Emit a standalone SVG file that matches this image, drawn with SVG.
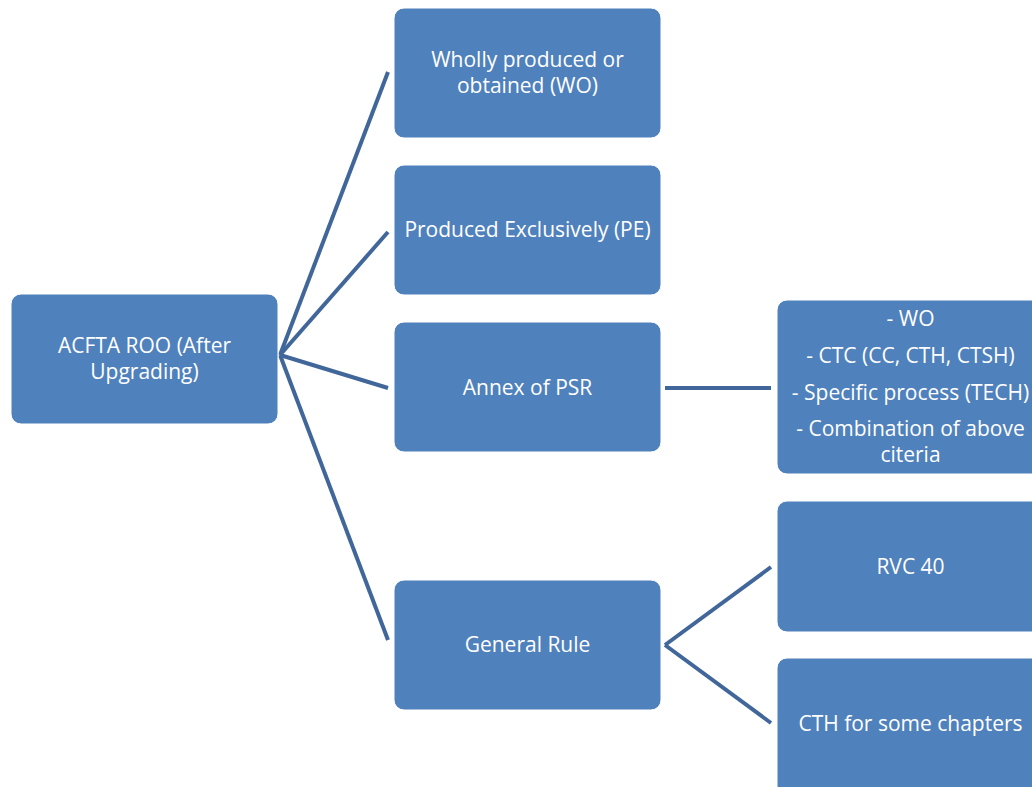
<svg xmlns="http://www.w3.org/2000/svg" width="1032" height="787" viewBox="0 0 1032 787">
<style>
.n{fill:#4F81BD;stroke:#ffffff;stroke-width:1}
.t{font-family:"Open Sans","Liberation Sans",sans-serif;font-size:21px;fill:#ffffff;text-anchor:middle}
.c{stroke:#41679A;stroke-width:4;fill:none}
</style>
<rect width="1032" height="787" fill="#ffffff"/>
<g id="connectors">
<path class="c" d="M280,355 L388,72"/>
<path class="c" d="M280,355 L388,232"/>
<path class="c" d="M280,355 L388,388"/>
<path class="c" d="M280,355 L388,640"/>
<path class="c" d="M665,388 L771,388"/>
<path class="c" d="M665,645 L771,567"/>
<path class="c" d="M665,645 L771,723"/>
</g>
<g id="root">
<rect class="n" x="11" y="294" width="267" height="130" rx="10"/>
<text class="t" x="144.5" y="353">ACFTA ROO (After</text>
<text class="t" x="144.5" y="379">Upgrading)</text>
</g>
<g id="wo">
<rect class="n" x="394" y="8" width="267" height="130" rx="10"/>
<text class="t" x="527.5" y="67">Wholly produced or</text>
<text class="t" x="527.5" y="93">obtained (WO)</text>
</g>
<g id="pe">
<rect class="n" x="394" y="165" width="267" height="130" rx="10"/>
<text class="t" x="527.5" y="237">Produced Exclusively (PE)</text>
</g>
<g id="psr">
<rect class="n" x="394" y="322" width="267" height="130" rx="10"/>
<text class="t" x="527.5" y="395">Annex of PSR</text>
</g>
<g id="gr">
<rect class="n" x="394" y="580" width="267" height="130" rx="10"/>
<text class="t" x="527.5" y="652">General Rule</text>
</g>
<g id="criteria">
<rect class="n" x="777" y="300" width="267" height="174" rx="10"/>
<text class="t" x="910.5" y="326">- WO</text>
<text class="t" x="910.5" y="363">- CTC (CC, CTH, CTSH)</text>
<text class="t" x="910.5" y="400">- Specific process (TECH)</text>
<text class="t" x="910.5" y="436">- Combination of above</text>
<text class="t" x="910.5" y="462">citeria</text>
</g>
<g id="rvc">
<rect class="n" x="777" y="501" width="267" height="131" rx="10"/>
<text class="t" x="910.5" y="574">RVC 40</text>
</g>
<g id="cth">
<rect class="n" x="777" y="658" width="267" height="140" rx="10"/>
<text class="t" x="910.5" y="731">CTH for some chapters</text>
</g>
</svg>
